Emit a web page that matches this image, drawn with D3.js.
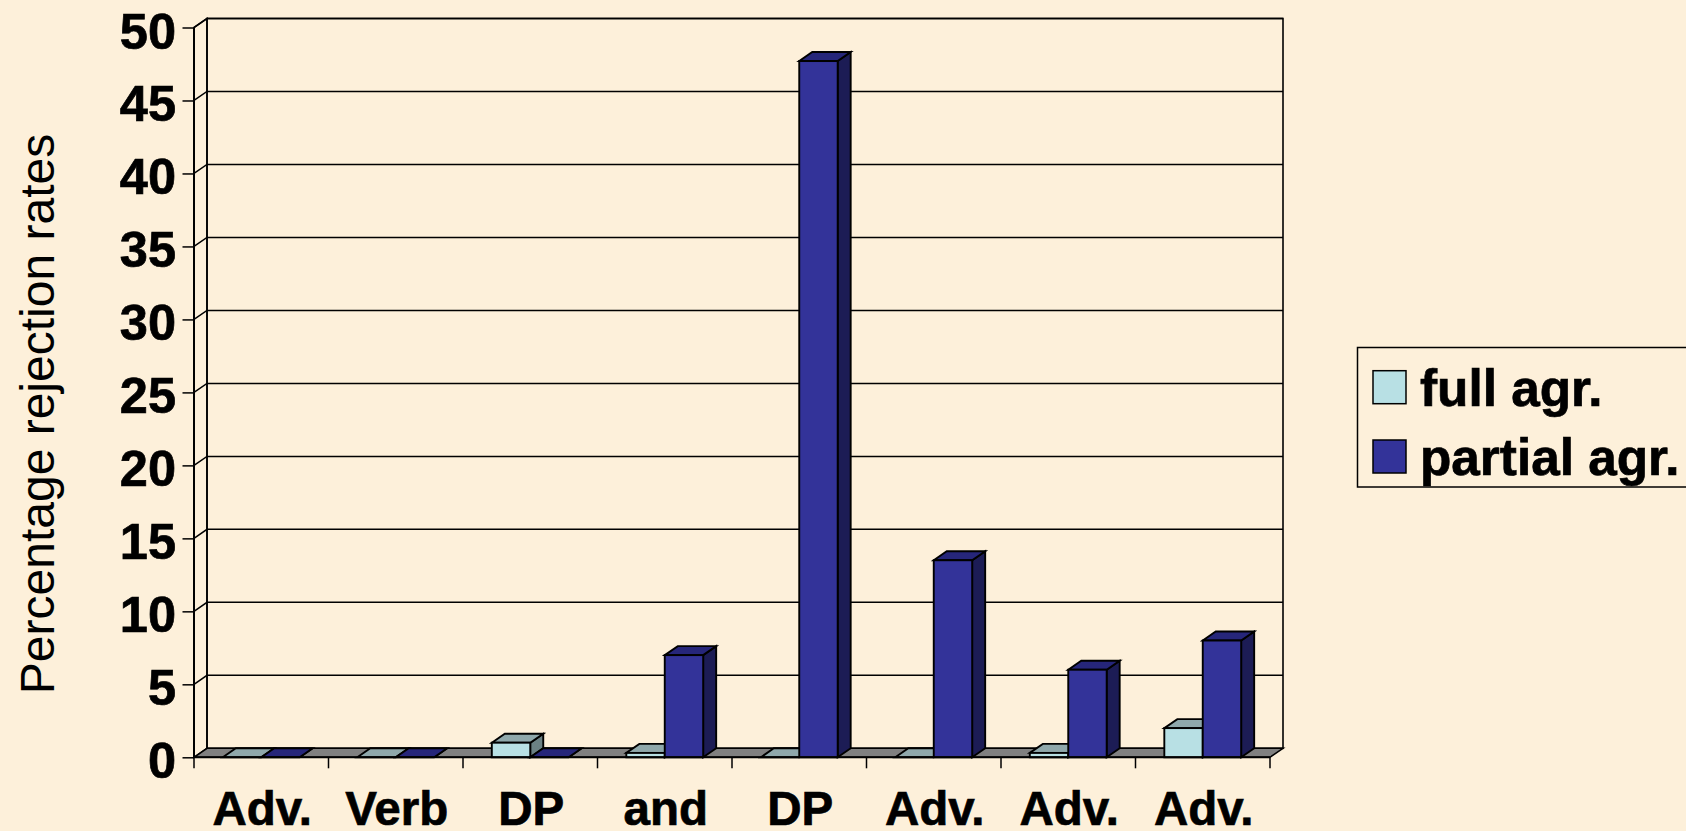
<!DOCTYPE html>
<html><head><meta charset="utf-8">
<script src="https://cdn.jsdelivr.net/npm/d3@7"></script>
<style>
html,body{margin:0;padding:0;background:#fdf0da;overflow:hidden}
svg{display:block}
text{font-family:"Liberation Sans",Arial,sans-serif;fill:#000}
</style></head><body>
<svg id="c" width="1686" height="831"></svg>
<script>
const categories = ["Adv.", "Verb", "DP", "and", "DP", "Adv.", "Adv.", "Adv."];
const seriesNames = ["full agr.", "partial agr."];
const fullAgr = [0, 0, 1, 0.3, 0, 0, 0.3, 2];
const partialAgr = [0, 0, 0, 7, 47.7, 13.5, 6, 8];
const yTicks = [0, 5, 10, 15, 20, 25, 30, 35, 40, 45, 50];

const colors = [
  {front:"#b8e0e4", top:"#8fa8ab", side:"#6b8184"},
  {front:"#333399", top:"#26267a", side:"#1c1c55"}
];
const dx = 13, dy = -9;
const svg = d3.select("#c");
const x = d3.scaleBand().domain(d3.range(categories.length)).range([194, 1270]);
const y = d3.scaleLinear().domain([0, 50]).range([757.3, 27.5]);
const inner = d3.scaleBand().domain([0, 1]).range([0, x.bandwidth()]).paddingOuter(0.75).paddingInner(0);
const ink = "#000";
const pts = a => a.map(p => p.join(",")).join(" ");
const [x0, x1] = x.range();

// back wall and side wall
svg.append("rect").attr("x", x0 + dx).attr("y", y(50) + dy)
  .attr("width", x1 - x0).attr("height", y(0) - y(50))
  .attr("fill", "none").attr("stroke", ink).attr("stroke-width", 1.6);
svg.append("polygon").attr("points", pts([[x0, y(50)], [x0 + dx, y(50) + dy], [x0 + dx, y(0) + dy], [x0, y(0)]]))
  .attr("fill", "none").attr("stroke", ink).attr("stroke-width", 1.6);

// gridlines
yTicks.filter(t => t > 0).forEach(t => {
  svg.append("polyline").attr("points", pts([[x0, y(t)], [x0 + dx, y(t) + dy], [x1 + dx, y(t) + dy]]))
    .attr("fill", "none").attr("stroke", ink).attr("stroke-width", 1.5);
});

// floor
svg.append("polygon").attr("points", pts([[x0, y(0)], [x0 + dx, y(0) + dy], [x1 + dx, y(0) + dy], [x1, y(0)]]))
  .attr("fill", "#808080").attr("stroke", ink).attr("stroke-width", 1.6);

// bars
const bars = svg.append("g").attr("stroke", ink).attr("stroke-width", 1.9).attr("stroke-linejoin", "miter");
categories.forEach((c, i) => {
  [fullAgr, partialAgr].forEach((vals, s) => {
    const l = x(i) + inner(s), r = l + inner.bandwidth(), t = y(vals[i]), b = y(0);
    const col = colors[s];
    bars.append("polygon").attr("fill", col.side)
      .attr("points", pts([[r, b], [r, t], [r + dx, t + dy], [r + dx, b + dy]]));
    bars.append("polygon").attr("fill", col.top)
      .attr("points", pts([[l, t], [r, t], [r + dx, t + dy], [l + dx, t + dy]]));
    bars.append("rect").attr("fill", col.front)
      .attr("x", l).attr("y", t).attr("width", r - l).attr("height", b - t);
  });
});

// y axis
const yAxis = d3.axisLeft(y).tickValues(yTicks).tickSize(11.5).tickPadding(6.5);
const gy = svg.append("g").attr("transform", `translate(${x0},0)`).call(yAxis);
gy.select(".domain").attr("stroke", ink).attr("stroke-width", 2).attr("d", `M0,${y(50)}V${y(0)}`);
gy.selectAll(".tick line").attr("stroke", ink).attr("stroke-width", 1.5);
gy.selectAll(".tick text").attr("dy", null).attr("y", 20.5)
  .attr("font-family", '"Liberation Sans",Arial,sans-serif').attr("font-size", 50.5).attr("font-weight", "bold")
  .attr("stroke", "#000").attr("stroke-width", 0.7);

// x axis
const xEdges = d3.range(categories.length + 1).map(i => x0 + i * x.step());
const xAxisLine = svg.append("g").attr("stroke", ink).attr("stroke-width", 1.5);
xAxisLine.append("line").attr("x1", x0).attr("x2", x1).attr("y1", y(0)).attr("y2", y(0)).attr("stroke-width", 2);
xEdges.forEach(e => xAxisLine.append("line").attr("x1", e).attr("x2", e).attr("y1", y(0)).attr("y2", y(0) + 11));
const gx = svg.append("g").attr("transform", `translate(1,${y(0)})`)
  .call(d3.axisBottom(x).tickFormat(i => categories[i]).tickSize(0).tickPadding(0));
gx.select(".domain").remove();
gx.selectAll("text").attr("dy", null).attr("y", 67.7)
  .attr("font-family", '"Liberation Sans",Arial,sans-serif').attr("font-size", 47.5).attr("font-weight", "bold")
  .attr("stroke", "#000").attr("stroke-width", 0.7);

// y title
svg.append("text").attr("transform", "translate(54,414) rotate(-90)")
  .attr("text-anchor", "middle").attr("font-size", 48).text("Percentage rejection rates");

// legend
svg.append("rect").attr("x", 1357.5).attr("y", 347.5).attr("width", 340).attr("height", 139.5)
  .attr("fill", "none").attr("stroke", ink).attr("stroke-width", 1.5);
const legY = d3.scalePoint().domain(seriesNames).range([370.7, 440]);
seriesNames.forEach((n, s) => {
  svg.append("rect").attr("x", 1373).attr("y", legY(n)).attr("width", 33).attr("height", 33)
    .attr("fill", colors[s].front).attr("stroke", ink).attr("stroke-width", 1.5);
  svg.append("text").attr("x", 1420).attr("y", legY(n) + 35)
    .attr("font-size", 51.3).attr("font-weight", "bold")
    .attr("stroke", "#000").attr("stroke-width", 0.7).text(n);
});
</script></body></html>
